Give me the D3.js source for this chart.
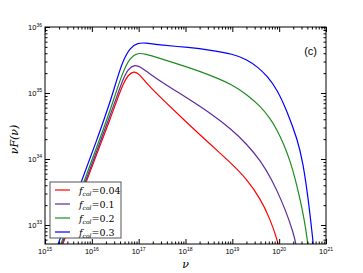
<!DOCTYPE html>
<html><head><meta charset="utf-8">
<script src="https://cdn.jsdelivr.net/npm/d3@7"></script>
<style>body{margin:0;background:#fff;}svg{display:block;}</style>
</head><body>
<script>
// data: [log10(nu), log10(nuF)]
const fcolLabels = ["0.04", "0.1", "0.2", "0.3"];
const seriesColors = ["#ff0000", "#5e2a9e", "#1e8c1e", "#0000ff"];
const red04 = [[15.1,32.18],[15.38,32.71],[16.0,33.88],[16.39,34.60],[16.54,34.90],[16.67,35.14],[16.78,35.28],[16.90,35.33],[17.0,35.30],[17.2,35.12],[17.5,34.91],[18.0,34.57],[18.5,34.24],[19.0,33.92],[19.3,33.70],[19.6,33.40],[19.8,33.10],[19.96,32.78],[20.05,32.5]];
const purple01 = [[15.1,32.22],[15.36,32.71],[16.0,33.92],[16.39,34.66],[16.54,34.96],[16.67,35.22],[16.78,35.37],[16.92,35.43],[17.03,35.40],[17.2,35.31],[17.5,35.16],[18.0,34.94],[18.5,34.71],[19.0,34.44],[19.3,34.23],[19.6,33.98],[19.85,33.68],[20.05,33.37],[20.2,33.10],[20.3,32.88],[20.36,32.72],[20.4,32.5]];
const green02 = [[15.1,32.25],[15.34,32.71],[16.0,33.98],[16.24,34.44],[16.39,34.74],[16.54,35.06],[16.67,35.33],[16.82,35.54],[16.98,35.61],[17.15,35.59],[17.39,35.54],[18.10,35.38],[18.53,35.27],[19.02,35.12],[19.3,34.98],[19.6,34.80],[19.8,34.62],[19.95,34.45],[20.1,34.22],[20.24,33.96],[20.35,33.68],[20.45,33.38],[20.53,33.10],[20.60,32.80],[20.64,32.5]];
const blue03 = [[15.1,32.37],[15.28,32.71],[15.7,33.51],[16.11,34.29],[16.39,34.86],[16.54,35.22],[16.67,35.50],[16.82,35.69],[16.98,35.76],[17.15,35.76],[17.39,35.73],[18.10,35.69],[18.53,35.65],[19.02,35.59],[19.3,35.51],[19.55,35.39],[19.74,35.26],[19.96,35.05],[20.17,34.72],[20.39,34.30],[20.51,33.94],[20.62,33.40],[20.70,32.90],[20.76,32.5]];
const allSeries = [red04, purple01, green02, blue03];
const xMajorExps = [15,16,17,18,19,20,21];
const yMajorExps = [33,34,35,36];

const W = 363, H = 273;
const L = 45, R = 326, T = 27, B = 244;
const svg = d3.select("body").append("svg").attr("width", W).attr("height", H);

const x = d3.scaleLog().domain([1e15, 1e21]).range([L, R]);
const y = d3.scaleLog().domain([Math.pow(10, 32.712), 1e36]).range([B, T]);

svg.append("clipPath").attr("id", "clip").append("rect")
  .attr("x", L).attr("y", T).attr("width", R - L).attr("height", B - T);

const line = d3.line()
  .x(d => x(Math.pow(10, d[0])))
  .y(d => y(Math.pow(10, d[1])))
  .curve(d3.curveBasis);

const g = svg.append("g").attr("clip-path", "url(#clip)");
allSeries.forEach((s, i) => {
  g.append("path").attr("d", line(s)).attr("fill", "none")
    .attr("stroke", seriesColors[i]).attr("stroke-width", 1.2);
});

// minor ticks
const xMinor = [], yMinor = [];
for (let e = 15; e < 21; e++) for (let k = 2; k <= 9; k++) xMinor.push(k * Math.pow(10, e));
for (let e = 32; e < 36; e++) for (let k = 2; k <= 9; k++) { const v = k * Math.pow(10, e); if (v >= y.domain()[0]) yMinor.push(v); }
const xMajor = xMajorExps.map(e => Math.pow(10, e));
const yMajor = yMajorExps.map(e => Math.pow(10, e));

function styleAxis(sel) {
  sel.select(".domain").remove();
  sel.selectAll("line").attr("stroke", "#000").attr("stroke-width", 1);
  sel.selectAll("text").remove();
}
svg.append("g").attr("transform", `translate(0,${B})`).call(d3.axisBottom(x).tickValues(xMajor).tickSize(-5)).call(styleAxis);
svg.append("g").attr("transform", `translate(0,${B})`).call(d3.axisBottom(x).tickValues(xMinor).tickSize(-2.5)).call(styleAxis);
svg.append("g").attr("transform", `translate(0,${T})`).call(d3.axisTop(x).tickValues(xMajor).tickSize(-5)).call(styleAxis);
svg.append("g").attr("transform", `translate(0,${T})`).call(d3.axisTop(x).tickValues(xMinor).tickSize(-2.5)).call(styleAxis);
svg.append("g").attr("transform", `translate(${L},0)`).call(d3.axisLeft(y).tickValues(yMajor).tickSize(-5)).call(styleAxis);
svg.append("g").attr("transform", `translate(${L},0)`).call(d3.axisLeft(y).tickValues(yMinor).tickSize(-2.5)).call(styleAxis);
svg.append("g").attr("transform", `translate(${R},0)`).call(d3.axisRight(y).tickValues(yMajor).tickSize(-5)).call(styleAxis);
svg.append("g").attr("transform", `translate(${R},0)`).call(d3.axisRight(y).tickValues(yMinor).tickSize(-2.5)).call(styleAxis);

svg.append("rect").attr("x", L).attr("y", T).attr("width", R - L).attr("height", B - T)
  .attr("fill", "none").attr("stroke", "#000").attr("stroke-width", 1);

const fontSans = "Liberation Sans, Arial, sans-serif";
// x tick labels
xMajorExps.forEach(e => {
  const t = svg.append("text").attr("x", x(Math.pow(10, e))).attr("y", 254)
    .attr("text-anchor", "middle").attr("font-family", fontSans).attr("font-size", 7.5).attr("fill", "#000");
  t.append("tspan").text("10");
  t.append("tspan").attr("dy", -3.5).attr("font-size", 5).text(e);
});
// y tick labels
yMajorExps.forEach(e => {
  const t = svg.append("text").attr("x", 42).attr("y", y(Math.pow(10, e)) + 3)
    .attr("text-anchor", "end").attr("font-family", fontSans).attr("font-size", 7.5).attr("fill", "#000");
  t.append("tspan").text("10");
  t.append("tspan").attr("dy", -3.5).attr("font-size", 5).text(e);
});

const fontSerif = "DejaVu Serif, Liberation Serif, serif";
svg.append("text").attr("x", (L + R) / 2).attr("y", 268).attr("text-anchor", "middle")
  .attr("font-family", fontSerif).attr("font-style", "italic").attr("font-size", 11).text("ν");
svg.append("text").attr("transform", `translate(18,${(T + B) / 2 + 4}) rotate(-90)`).attr("text-anchor", "middle")
  .attr("font-family", fontSerif).attr("font-style", "italic").attr("font-size", 11).text("νF(ν)");

svg.append("text").attr("x", 317).attr("y", 55).attr("text-anchor", "end")
  .attr("font-family", fontSans).attr("font-size", 11).text("(c)");

// legend
const lg = svg.append("g");
lg.append("rect").attr("x", 50).attr("y", 182).attr("width", 71).attr("height", 56)
  .attr("fill", "#fff").attr("stroke", "#555").attr("stroke-width", 1);
fcolLabels.forEach((lab, i) => {
  const yy = 190 + i * 14;
  lg.append("line").attr("x1", 55).attr("x2", 70).attr("y1", yy).attr("y2", yy)
    .attr("stroke", seriesColors[i]).attr("stroke-width", 1.2);
  const t = lg.append("text").attr("x", 79).attr("y", yy + 3.5)
    .attr("font-family", fontSerif).attr("font-size", 9.5).attr("fill", "#000");
  t.append("tspan").attr("font-style", "italic").text("f");
  t.append("tspan").attr("font-size", 6).attr("font-style", "italic").attr("dy", 2).text("col");
  t.append("tspan").attr("dy", -2).text("=" + lab);
});
</script>
</body></html>
